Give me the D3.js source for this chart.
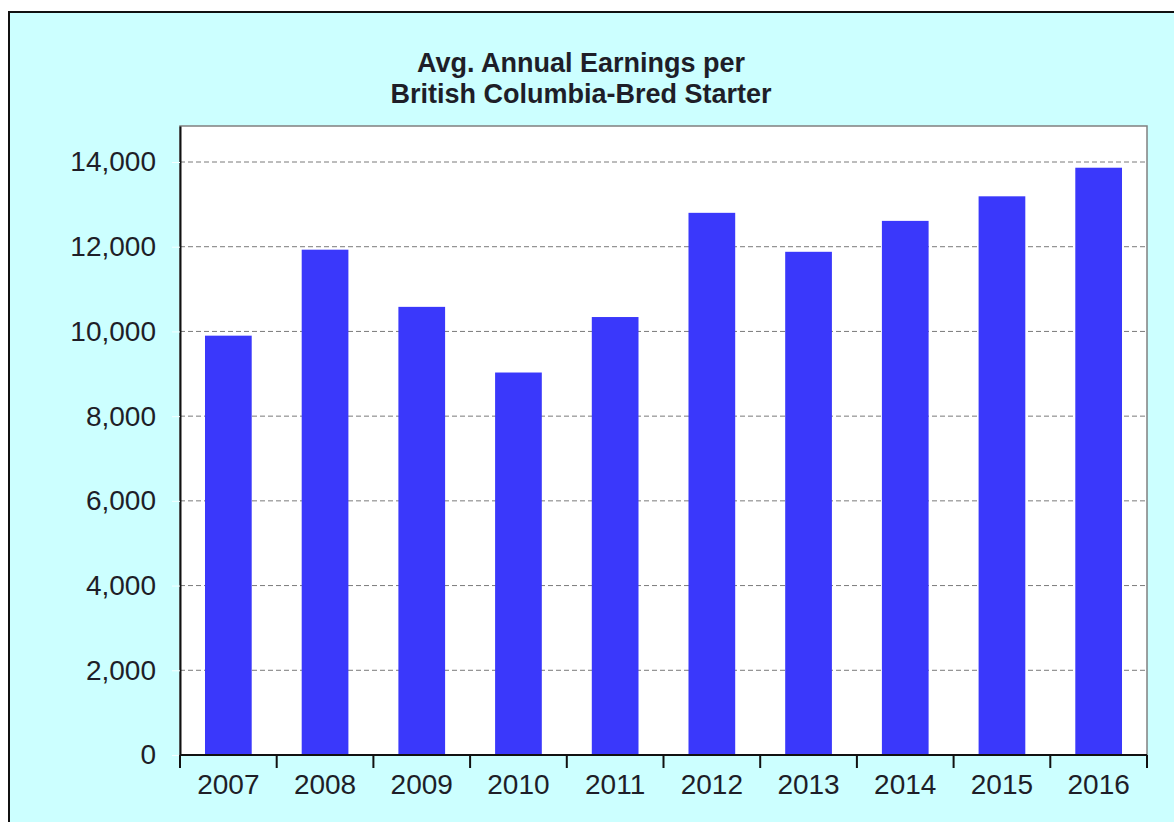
<!DOCTYPE html>
<html>
<head>
<meta charset="utf-8">
<script src="https://cdn.jsdelivr.net/npm/d3@7"></script>
<style>
  html, body { margin: 0; padding: 0; background: #ffffff; }
  svg { display: block; }
  text { font-family: "Liberation Sans", Arial, sans-serif; fill: #1e1e28; }
</style>
</head>
<body>
<svg id="chart" width="1174" height="822"></svg>
<script>
const years = ["2007","2008","2009","2010","2011","2012","2013","2014","2015","2016"];
const earnings = [9900, 11930, 10580, 9030, 10340, 12800, 11880, 12610, 13190, 13865];
const yTicks = [0, 2000, 4000, 6000, 8000, 10000, 12000, 14000];
const titleLines = ["Avg. Annual Earnings per", "British Columbia-Bred Starter"];

const svg = d3.select("#chart");
const W = 1174, H = 822;
const plot = { left: 180, right: 1147, top: 126, bottom: 755 };

// outer frame
svg.append("rect").attr("x", 9).attr("y", 12).attr("width", W + 10).attr("height", H + 10)
  .attr("fill", "#ccffff").attr("stroke", "#111").attr("stroke-width", 2);

// title
svg.append("g").selectAll("text").data(titleLines).join("text")
  .attr("x", 581).attr("y", (d, i) => 72 + i * 31)
  .attr("text-anchor", "middle")
  .style("font-size", "27px").style("font-weight", "bold")
  .text(d => d);

const x = d3.scaleBand().domain(years).range([plot.left, plot.right])
  .paddingInner(0.517).paddingOuter(0.2585);
const y = d3.scaleLinear().domain([0, 14850]).range([plot.bottom, plot.top]);

// plot background
svg.append("rect").attr("x", plot.left).attr("y", plot.top)
  .attr("width", plot.right - plot.left).attr("height", plot.bottom - plot.top)
  .attr("fill", "#ffffff").attr("stroke", "#808080").attr("stroke-width", 1.5);

// gridlines
svg.append("g").selectAll("line").data(yTicks.filter(d => d > 0)).join("line")
  .attr("x1", plot.left).attr("x2", plot.right)
  .attr("y1", d => y(d)).attr("y2", d => y(d))
  .attr("stroke", "#7a7a7a").attr("stroke-width", 1).attr("stroke-dasharray", "5,3");

// bars
svg.append("g").selectAll("rect").data(years).join("rect")
  .attr("x", d => x(d)).attr("width", x.bandwidth())
  .attr("y", (d, i) => y(earnings[i]))
  .attr("height", (d, i) => y(0) - y(earnings[i]))
  .attr("fill", "#3a38fb");

// y axis
const yAxis = d3.axisLeft(y).tickValues(yTicks).tickFormat(d3.format(","))
  .tickSizeInner(8).tickSizeOuter(0).tickPadding(16);
const gy = svg.append("g").attr("transform", `translate(${plot.left},0)`).call(yAxis);
gy.select(".domain").attr("stroke", "#111").attr("stroke-width", 2);
gy.selectAll(".tick line").attr("stroke", "#f4ffff");
gy.selectAll(".tick text").style("font-size", "28px").attr("font-family", null).attr("fill", "#1e1e28");

// x axis
const step = x.step();
const bounds = years.map(d => x(d) + x.bandwidth() / 2 - step / 2)
  .concat([x(years[years.length - 1]) + x.bandwidth() / 2 + step / 2]);
const gx = svg.append("g");
gx.append("line").attr("x1", plot.left).attr("x2", plot.right)
  .attr("y1", plot.bottom).attr("y2", plot.bottom).attr("stroke", "#111").attr("stroke-width", 2);
gx.selectAll("line.tk").data(bounds).join("line").attr("class", "tk")
  .attr("x1", d => d).attr("x2", d => d)
  .attr("y1", plot.bottom).attr("y2", plot.bottom + 13)
  .attr("stroke", "#111").attr("stroke-width", 2);
gx.selectAll("text").data(years).join("text")
  .attr("x", d => x(d) + x.bandwidth() / 2).attr("y", 794)
  .attr("text-anchor", "middle").style("font-size", "28px")
  .text(d => d);
</script>
</body>
</html>
